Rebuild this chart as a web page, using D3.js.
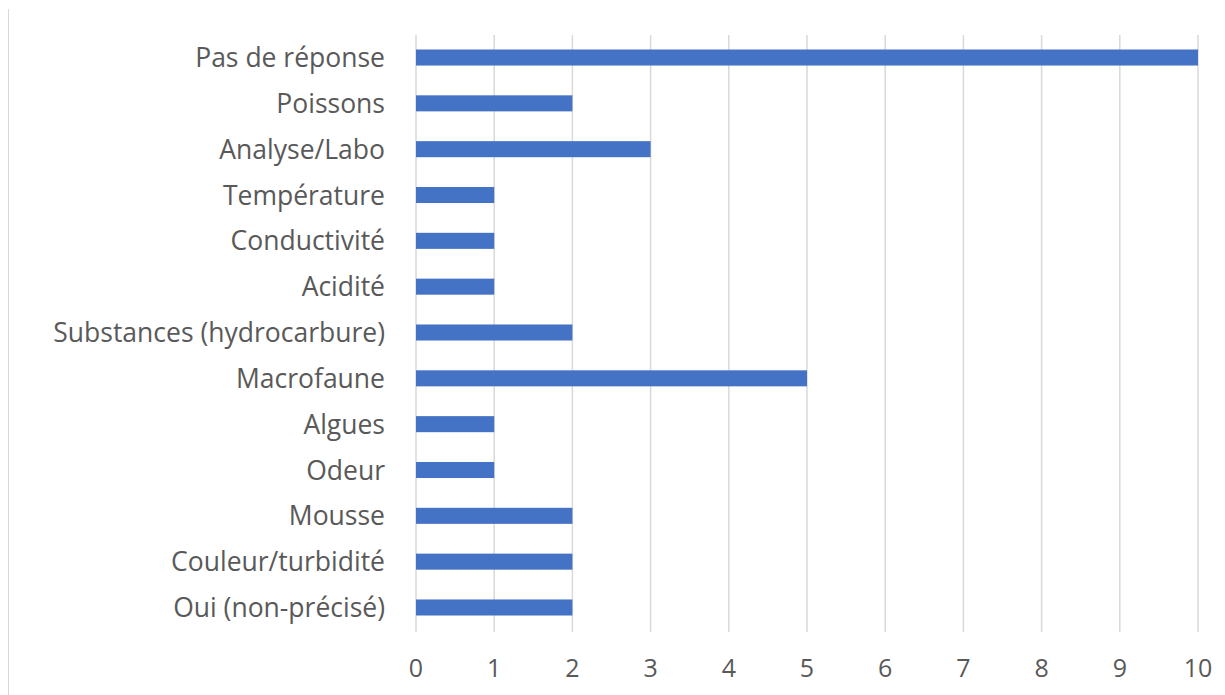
<!DOCTYPE html>
<html><head><meta charset="utf-8">
<script src="https://cdn.jsdelivr.net/npm/d3@7"></script>
<style>body{margin:0;background:#fff}svg{display:block}</style>
</head><body>
<svg id="c" width="1225" height="695"></svg>
<script>
const categories = ["Pas de réponse","Poissons","Analyse/Labo","Température","Conductivité","Acidité","Substances (hydrocarbure)","Macrofaune","Algues","Odeur","Mousse","Couleur/turbidité","Oui (non-précisé)"];
const values = [10,2,3,1,1,1,2,5,1,1,2,2,2];
const xTicks = [0,1,2,3,4,5,6,7,8,9,10];

const svg = d3.select("#c");
const font = "'Open Sans', sans-serif";
const x = d3.scaleLinear().domain([0,10]).range([416,1198]);
const y = d3.scaleBand().domain(categories).range([34.6,630.4]).paddingInner(0.65).paddingOuter(0.325);

// chart border (left edge)
svg.append("line").attr("x1",8.5).attr("x2",8.5).attr("y1",9).attr("y2",695).attr("stroke","#d9d9d9").attr("stroke-width",1);

// gridlines
svg.append("g").selectAll("line").data(xTicks).join("line")
  .attr("x1",d=>x(d)).attr("x2",d=>x(d)).attr("y1",35).attr("y2",632)
  .attr("stroke","#d9d9d9").attr("stroke-width",1.5);

// bars
svg.append("g").selectAll("rect").data(categories).join("rect")
  .attr("x",x(0)).attr("y",d=>y(d)).attr("width",(d,i)=>x(values[i])-x(0)).attr("height",y.bandwidth())
  .attr("fill","#4472c4");

// category labels
svg.append("g").selectAll("text").data(categories).join("text")
  .attr("x",385).attr("y",d=>y(d)+y.bandwidth()/2).attr("dy","0.36em")
  .attr("text-anchor","end").attr("font-family",font).attr("font-size",26.5).attr("fill","#595959")
  .text(d=>d);

// x tick labels
svg.append("g").selectAll("text").data(xTicks).join("text")
  .attr("x",d=>x(d)).attr("y",668).attr("dy","0.36em")
  .attr("text-anchor","middle").attr("font-family",font).attr("font-size",25).attr("fill","#595959")
  .text(d=>d);
</script>
</body></html>
